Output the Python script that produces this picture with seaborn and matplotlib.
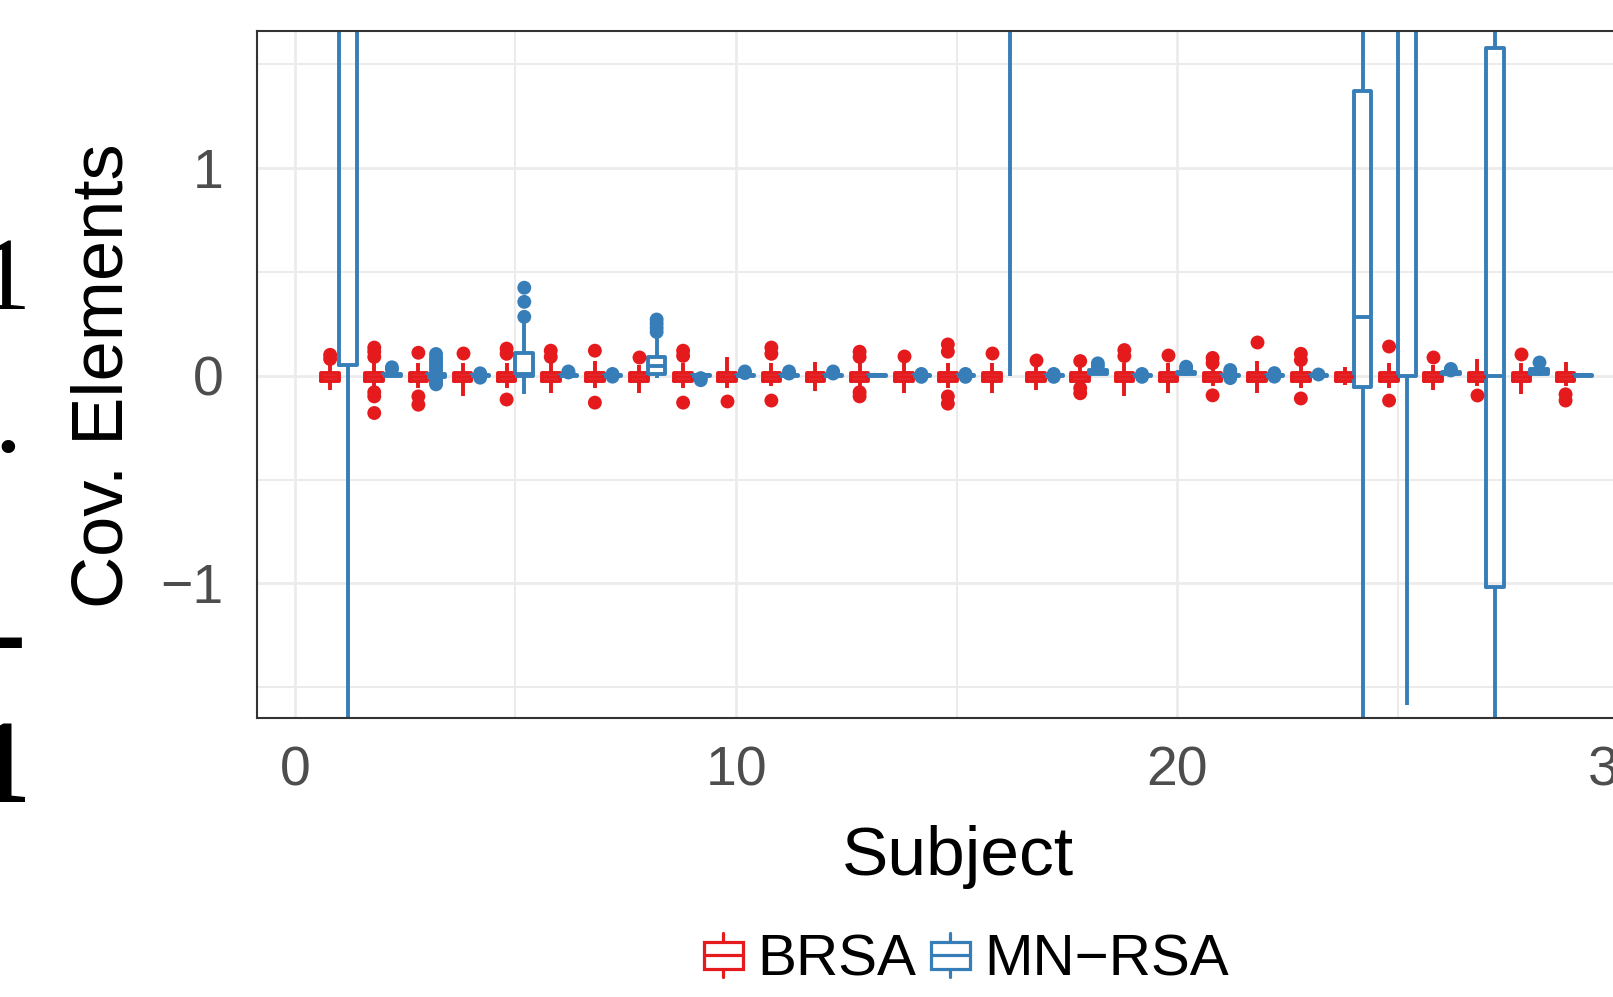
import numpy as np
import pandas as pd
import matplotlib
matplotlib.use("Agg")
import matplotlib.pyplot as plt
import seaborn as sns
from matplotlib.patches import Patch, Rectangle
from matplotlib.lines import Line2D
from matplotlib.legend_handler import HandlerBase

# ---- data (box summaries per subject) ----
subjects = list(range(1, 30))
methods = ["BRSA", "MN\u2212RSA"]
palette = {"BRSA": "#E41A1C", "MN\u2212RSA": "#377EB8"}

brsa_q1 = [-0.028] * 29
brsa_med = [-0.008] * 29
brsa_q3 = [0.012] * 29
brsa_lo = [-0.07, -0.055, -0.06, -0.10, -0.06, -0.085, -0.06, -0.085, -0.06, -0.06,
           -0.05, -0.075, -0.05, -0.085, -0.06, -0.085, -0.07, -0.04, -0.10, -0.085,
           -0.05, -0.085, -0.06, -0.046, -0.06, -0.07, -0.05, -0.09, -0.05]
brsa_hi = [0.05, 0.06, 0.06, 0.06, 0.06, 0.06, 0.07, 0.05, 0.06, 0.09,
           0.06, 0.065, 0.06, 0.06, 0.06, 0.06, 0.05, 0.04, 0.06, 0.06,
           0.04, 0.07, 0.05, 0.042, 0.06, 0.05, 0.08, 0.06, 0.066]
brsa_out = [[0.08, 0.10], [0.09, 0.115, 0.135, -0.08, -0.10, -0.18], [0.11, -0.10, -0.14],
            [0.11], [0.105, 0.13, -0.115], [0.09, 0.12], [0.12, -0.13], [0.09],
            [0.095, 0.12, -0.13], [-0.12], [0.105, 0.135, -0.12], [],
            [0.09, 0.115, -0.08, -0.10], [0.094], [0.115, 0.15, -0.10, -0.135], [0.107],
            [0.075], [0.07, -0.06, -0.085], [0.094, 0.123], [0.099], [0.06, 0.085, -0.095],
            [0.163], [0.075, 0.105, -0.11], [], [0.14, -0.12], [0.088], [-0.095], [0.105],
            [-0.09, -0.12]]

mn_q1 = [0.05, 0.0, -0.005, -0.003, 0.0, -0.003, -0.003, 0.008, -0.003, -0.003,
         -0.003, -0.003, -0.003, -0.003, -0.003, 2.0, -0.003, 0.008, -0.003, 0.008,
         -0.003, -0.003, -0.003, -0.054, 0.0, 0.008, -1.015, 0.008, -0.003]
mn_med = [2.5, 0.005, 0.0, 0.001, 0.01, 0.001, 0.001, 0.045, 0.001, 0.001,
          0.001, 0.001, 0.001, 0.001, 0.001, 3.0, 0.001, 0.015, 0.001, 0.012,
          0.001, 0.001, 0.001, 0.283, 2.0, 0.012, 0.0, 0.02, 0.001]
mn_q3 = [4.0, 0.01, 0.008, 0.004, 0.11, 0.004, 0.004, 0.088, 0.004, 0.004,
         0.004, 0.004, 0.004, 0.004, 0.004, 4.0, 0.004, 0.025, 0.004, 0.018,
         0.004, 0.004, 0.004, 1.371, 3.0, 0.018, 1.579, 0.03, 0.004]
mn_lo = [-3.0, -0.005, -0.012, -0.008, -0.089, -0.008, -0.008, -0.012, -0.008, -0.008,
         -0.008, -0.008, -0.008, -0.008, -0.008, 0.0, -0.008, 0.004, -0.008, 0.004,
         -0.008, -0.008, -0.008, -2.5, -1.584, 0.004, -3.0, 0.0, -0.008]
mn_hi = [6.0, 0.015, 0.015, 0.01, 0.26, 0.01, 0.01, 0.195, 0.01, 0.01,
         0.01, 0.01, 0.01, 0.01, 0.01, 5.0, 0.01, 0.03, 0.01, 0.022,
         0.01, 0.01, 0.01, 3.5, 5.0, 0.02, 3.5, 0.035, 0.01]
mn_out = [[], [0.03, 0.04],
          [-0.042, -0.03, -0.02, 0.025, 0.04, 0.055, 0.07, 0.085, 0.104],
          [0.011, -0.01], [0.283, 0.355, 0.423], [0.02, 0.015], [0.008, -0.005],
          [0.21, 0.23, 0.25, 0.27], [-0.022, -0.012], [0.02, 0.012], [0.02, 0.01],
          [0.02, 0.01], [], [0.008, -0.006], [0.008, -0.006], [], [0.008, -0.006],
          [0.045, 0.059], [0.008, -0.006], [0.032, 0.043], [0.027, 0.015, -0.012],
          [0.012, -0.005], [0.006], [], [], [0.025, 0.032], [], [0.067], []]

# ---- long-form tables ----
box_rows, out_rows = [], []
summ = {"BRSA": (brsa_lo, brsa_q1, brsa_med, brsa_q3, brsa_hi, brsa_out),
        "MN\u2212RSA": (mn_lo, mn_q1, mn_med, mn_q3, mn_hi, mn_out)}
for m in methods:
    lo, q1, med, q3, hi, outs = summ[m]
    for i, s in enumerate(subjects):
        for v in (lo[i], q1[i], med[i], q3[i], hi[i]):
            box_rows.append((s, m, v))
        for v in outs[i]:
            out_rows.append((s, m, v))
box_df = pd.DataFrame(box_rows, columns=["subject", "method", "value"])
out_df = pd.DataFrame(out_rows, columns=["subject", "method", "value"])

# ---- style ----
sns.set_theme(style="white")
plt.rcParams["font.family"] = ["Liberation Sans", "DejaVu Sans"]
plt.rcParams["text.color"] = "black"

fig = plt.figure(figsize=(16.13, 9.97), dpi=100)
ax = fig.add_axes([0.1591, 0.2798, 0.858, 0.689])

LW = 2.8
sns.boxplot(data=box_df, x="subject", y="value", hue="method", hue_order=methods,
            palette=palette, saturation=1, native_scale=True, orient="x", fill=False,
            width=0.8, gap=0.0, whis=(0, 100), showfliers=False, linewidth=LW,
            legend=False, ax=ax, capprops=dict(visible=False),
            boxprops=dict(linewidth=LW), whiskerprops=dict(linewidth=LW),
            medianprops=dict(linewidth=LW))
sns.stripplot(data=out_df, x="subject", y="value", hue="method", hue_order=methods,
              palette=palette, native_scale=True, orient="x", dodge=True, jitter=False,
              size=10, linewidth=0, legend=False, ax=ax, zorder=3)

ax.set_xlim(-0.866, 30.5)
ax.set_ylim(-1.648, 1.658)
ax.set_xticks([0, 10, 20, 30])
ax.set_xticks([5, 15, 25], minor=True)
ax.set_yticks([-1, 0, 1])
ax.set_yticks([-1.5, -0.5, 0.5, 1.5], minor=True)
ax.grid(True, which="major", color="#EBEBEB", linewidth=1.9)
ax.grid(True, which="minor", color="#EBEBEB", linewidth=1.4)
ax.set_axisbelow(True)
for sp in ax.spines.values():
    sp.set_color("#333333")
    sp.set_linewidth(1.5)
ax.tick_params(which="major", length=12, width=1.5, color="#333333",
               labelsize=40, labelcolor="#4D4D4D")
ax.tick_params(axis="y", pad=12)
ax.tick_params(axis="x", pad=8)
ax.tick_params(which="minor", length=0)

ax.set_xlabel("Subject", fontsize=50, color="black")
ax.xaxis.set_label_coords(0.507, -0.229)
ax.xaxis.label.set_va("baseline")
ax.set_ylabel("Cov. Elements", fontsize=52, color="black")
ax.yaxis.label.set_rotation_mode("anchor")
ax.yaxis.label.set_va("baseline")
ax.yaxis.set_label_coords(-0.097, 0.499)


class BoxKey(HandlerBase):
    def create_artists(self, legend, orig_handle, xdescent, ydescent, width, height,
                       fontsize, trans):
        c = orig_handle.get_edgecolor()
        x0, y0 = -xdescent, -ydescent
        lw = 2.3
        box = Rectangle((x0, y0 + 0.2 * height), width, 0.6 * height, fill=False,
                        edgecolor=c, linewidth=lw, transform=trans)
        mid = Line2D([x0, x0 + width], [y0 + 0.5 * height] * 2, color=c, lw=lw,
                     transform=trans)
        top = Line2D([x0 + width / 2] * 2, [y0 + 0.8 * height, y0 + height], color=c,
                     lw=lw, transform=trans)
        bot = Line2D([x0 + width / 2] * 2, [y0, y0 + 0.2 * height], color=c, lw=lw,
                     transform=trans)
        return [box, mid, top, bot]


handles = [Patch(facecolor="none", edgecolor=palette[m], label=m) for m in methods]
leg = fig.legend(handles=handles, loc="center", bbox_to_anchor=(0.599, 0.037), ncol=2,
                 frameon=False, fontsize=42, handler_map={Patch: BoxKey()},
                 handlelength=0.67, handleheight=0.8, handletextpad=0.24,
                 columnspacing=0.26, borderaxespad=0, borderpad=0)
for t in leg.get_texts():
    t.set_color("black")

# cropped remnants of the neighbouring panel on the far left
fig.text(31 / 1613, 1 - 309 / 997, "1", family="Liberation Serif", fontsize=75,
         ha="right", va="baseline")
fig.text(8 / 1613, 1 - 452 / 997, ".", family="Liberation Serif", fontsize=60,
         ha="center", va="baseline", fontweight="bold")
fig.text(26 / 1613, 1 - 643 / 997, "\u2014", family="DejaVu Sans", fontsize=60,
         ha="right", va="center", fontweight="bold")
fig.text(31 / 1613, 1 - 802 / 997, "1", family="Liberation Serif", fontsize=85,
         ha="right", va="baseline", fontweight="bold")

fig.savefig("out.png", dpi=100)
